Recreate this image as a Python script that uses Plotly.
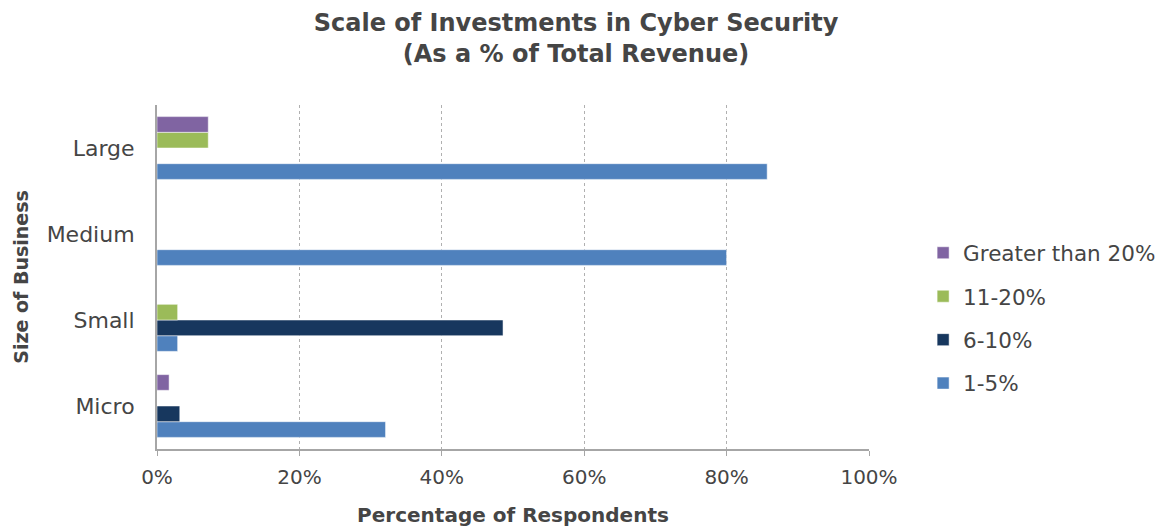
import plotly.graph_objects as go

categories = ["Large", "Medium", "Small", "Micro"]
series_names = ["1-5%", "6-10%", "11-20%", "Greater than 20%"]
v_1_5 = [85.7, 80.0, 2.9, 32.1]
v_6_10 = [0.0, 0.0, 48.6, 3.2]
v_11_20 = [7.2, 0.0, 2.9, 0.0]
v_gt20 = [7.2, 0.0, 0.0, 1.7]
series_values = [v_1_5, v_6_10, v_11_20, v_gt20]
colors = ["#4F81BD", "#17375E", "#9BBB59", "#8064A2"]
x_ticks = [0, 20, 40, 60, 80, 100]
x_tick_labels = ["0%", "20%", "40%", "60%", "80%", "100%"]

FONT = "DejaVu Sans"
TXT = "#454545"

fig = go.Figure()
for i, (name, vals, col) in enumerate(zip(series_names, series_values, colors)):
    fig.add_trace(go.Bar(
        y=categories, x=vals, name=name, orientation="h",
        marker=dict(color=col, line=dict(color="rgba(255,255,255,0.5)", width=1)),
        legendgroup=name, legendrank=100 - i,
    ))

fig.update_layout(
    width=1165, height=527,
    margin=dict(l=149, r=304, t=97, b=86, autoexpand=False),
    paper_bgcolor="white", plot_bgcolor="white",
    barmode="group", bargap=0.27, bargroupgap=0,
    font=dict(family=FONT, color=TXT),
    title=dict(
        text="<b>Scale of Investments in Cyber Security<br>(As a % of Total Revenue)</b>",
        x=0.4876, xanchor="center", y=0.956, yanchor="middle",
        font=dict(family=FONT, size=24, color=TXT),
    ),
    legend=dict(
        x=1.076, xanchor="left", y=0.38, yanchor="middle",
        traceorder="grouped", tracegroupgap=12.5,
        font=dict(family=FONT, size=21.5, color=TXT),
        itemwidth=30,
    ),
    showlegend=True,
)
fig.update_xaxes(
    range=[0, 100], tickvals=x_ticks, ticktext=x_tick_labels,
    showgrid=True, gridcolor="#B0B0B0", griddash="dot", gridwidth=1,
    showline=True, linecolor="#A6A6A6", linewidth=2,
    ticks="outside", ticklen=5, tickcolor="#A6A6A6",
    tickfont=dict(family=FONT, size=20, color=TXT),
    ticklabelstandoff=4,
    zeroline=False, automargin=False,
    title=dict(text="<b>Percentage of Respondents</b>", standoff=20,
               font=dict(family=FONT, size=20, color=TXT)),
)
fig.update_yaxes(
    categoryorder="array", categoryarray=categories[::-1],
    showline=True, linecolor="#A6A6A6", linewidth=2,
    ticks="", showgrid=False, automargin=False,
    tickfont=dict(family=FONT, size=22, color=TXT),
    ticklabelstandoff=16,
    title=dict(text="<b>Size of Business</b>", standoff=13,
               font=dict(family=FONT, size=19, color=TXT)),
)

fig.write_html("out.html")
